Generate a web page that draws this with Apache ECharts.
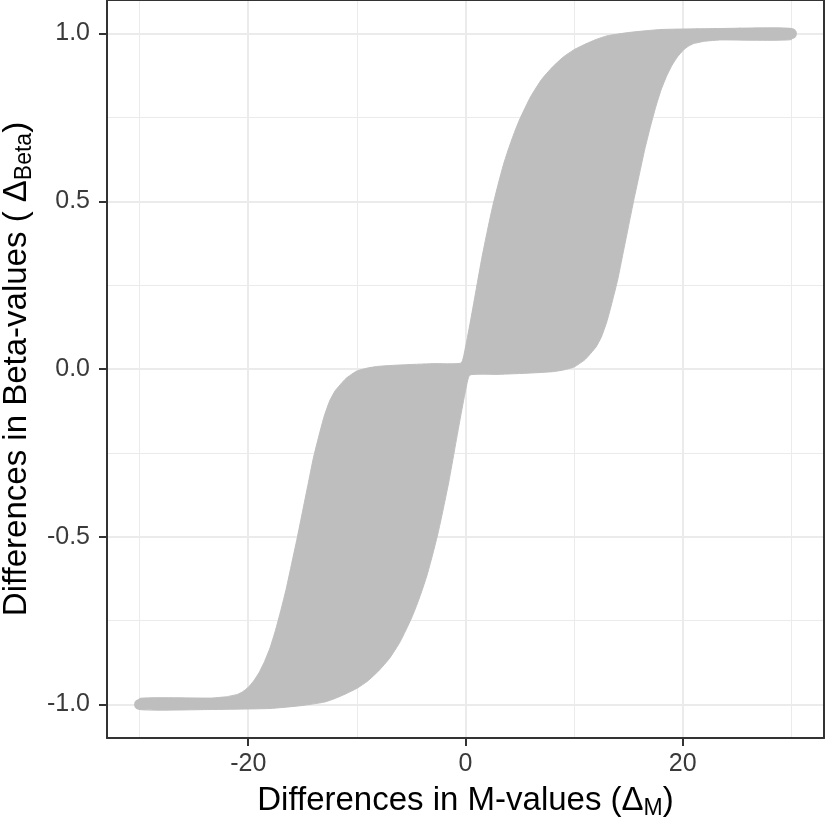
<!DOCTYPE html>
<html>
<head>
<meta charset="utf-8">
<script src="https://cdn.jsdelivr.net/npm/echarts@6/dist/echarts.min.js"></script>
<style>
html,body{margin:0;padding:0;background:#fff;}
#chart{width:825px;height:820px;}
</style>
</head>
<body>
<div id="chart"></div>
<script>
// Tick values and gridlines
const xTicks = [-20, 0, 20];
const yTicks = [-1, -0.5, 0, 0.5, 1];
const xMinor = [-30, -10, 10, 30];
const yMinor = [-0.75, -0.25, 0.25, 0.75];

// Outer upper edge of the grey band
const upperX = [-30, -23.5, -22, -21, -20.5, -20, -19.5, -19, -18.5, -18, -17.5, -17, -16.5, -16, -15.5, -15, -14.5, -14, -13.5, -13, -12.5, -12, -11, -10, -9, -8, -6, -3, -0.4, 0, 0.5, 1, 1.5, 2, 2.5, 3, 3.5, 4, 4.5, 5, 6, 7, 8, 9, 10, 11, 12, 13, 15, 18, 23.5, 30];
const upperY = [-0.982, -0.981, -0.977, -0.970, -0.962, -0.949, -0.930, -0.905, -0.872, -0.832, -0.780, -0.720, -0.655, -0.580, -0.505, -0.425, -0.345, -0.265, -0.200, -0.140, -0.095, -0.065, -0.028, -0.006, 0.003, 0.008, 0.012, 0.016, 0.018, 0.065, 0.150, 0.240, 0.330, 0.410, 0.485, 0.550, 0.610, 0.660, 0.705, 0.745, 0.812, 0.863, 0.900, 0.930, 0.952, 0.968, 0.982, 0.993, 1.003, 1.012, 1.015, 1.015];

// Outer lower edge of the grey band
const lowerX = [-30, -23.5, -18, -15, -13, -12, -11, -10, -9, -8, -7, -6, -5, -4.5, -4, -3.5, -3, -2.5, -2, -1.5, -1, -0.5, 0, 0.4, 3, 6, 8, 9, 10, 11, 12, 12.5, 13, 13.5, 14, 14.5, 15, 15.5, 16, 16.5, 17, 17.5, 18, 18.5, 19, 19.5, 20, 20.5, 21, 22, 23.5, 30];
const lowerY = [-1.015, -1.015, -1.012, -1.003, -0.993, -0.982, -0.968, -0.952, -0.930, -0.900, -0.863, -0.812, -0.745, -0.705, -0.660, -0.610, -0.550, -0.485, -0.410, -0.330, -0.240, -0.150, -0.065, -0.018, -0.016, -0.012, -0.008, -0.003, 0.006, 0.028, 0.065, 0.095, 0.140, 0.200, 0.265, 0.345, 0.425, 0.505, 0.580, 0.655, 0.720, 0.780, 0.832, 0.872, 0.905, 0.930, 0.949, 0.962, 0.970, 0.977, 0.981, 0.982];

// Extreme points (round ends)
const endX = [-30, 30];
const endY = [-1, 1];

const FONT = '"Liberation Sans", Arial, sans-serif';
const GREY = '#bebebe';

const chart = echarts.init(document.getElementById('chart'), null, {renderer: 'canvas'});

const gridLines = [];
xTicks.forEach(v => gridLines.push({xAxis: v, lineStyle: {width: 2}}));
xMinor.forEach(v => gridLines.push({xAxis: v, lineStyle: {width: 1}}));
yTicks.forEach(v => gridLines.push({yAxis: v, lineStyle: {width: 2}}));
yMinor.forEach(v => gridLines.push({yAxis: v, lineStyle: {width: 1}}));

const titleRich = {
  a: {fontFamily: FONT, fontSize: 33, lineHeight: 37, color: '#000', verticalAlign: 'top'},
  s: {fontFamily: FONT, fontSize: 23, lineHeight: 27, padding: [13, 0, 0, 0], color: '#000', verticalAlign: 'top'}
};

const hiddenAxisCommon = {
  axisLabel: {show: false}, axisTick: {show: false}, splitLine: {show: false},
  axisLine: {show: true, onZero: false, lineStyle: {color: '#333', width: 2}}, z: 10
};

chart.setOption({
  animation: false,
  backgroundColor: '#fff',
  grid: {left: 107, right: 1, top: 0, bottom: 82, containLabel: false, outerBoundsMode: 'none'},
  xAxis: [{
    type: 'value', min: -33, max: 33, position: 'bottom', z: 10,
    axisLine: {show: true, onZero: false, lineStyle: {color: '#333', width: 2}},
    axisTick: {show: true, customValues: xTicks, length: 8, lineStyle: {color: '#333', width: 2}},
    axisLabel: {customValues: xTicks, margin: 14, fontSize: 25, fontFamily: FONT, color: '#3a3a3a',
      formatter: v => String(v)},
    splitLine: {show: false},
    name: '{a|Differences in M-values (Δ}{s|M}{a|)}',
    nameLocation: 'middle', nameGap: 46,
    nameTextStyle: {rich: titleRich}
  }, Object.assign({type: 'value', min: -33, max: 33, position: 'top'}, hiddenAxisCommon)],
  yAxis: [{
    type: 'value', min: -1.1, max: 1.1, position: 'left', z: 10,
    axisLine: {show: true, onZero: false, lineStyle: {color: '#333', width: 2}},
    axisTick: {show: true, customValues: yTicks, length: 8, lineStyle: {color: '#333', width: 2}},
    axisLabel: {customValues: yTicks, margin: 17, fontSize: 25, fontFamily: FONT, color: '#3a3a3a',
      formatter: v => v.toFixed(1)},
    splitLine: {show: false},
    name: '{a|Differences in Beta-values ( Δ}{s|Beta}{a|)}',
    nameLocation: 'middle', nameGap: 70,
    nameTextStyle: {rich: titleRich}
  }, Object.assign({type: 'value', min: -1.1, max: 1.1, position: 'right'}, hiddenAxisCommon)],
  series: [
    {
      type: 'scatter', data: [], z: 1, silent: true,
      markLine: {
        silent: true, symbol: ['none', 'none'], z: 1, animation: false,
        label: {show: false},
        lineStyle: {color: '#ebebeb', type: 'solid'},
        emphasis: {disabled: true},
        data: gridLines
      }
    },
    {
      type: 'custom', z: 2, silent: true, clip: false,
      data: [[0, 0]],
      renderItem: function (params, api) {
        const pts = [];
        for (let i = 0; i < upperX.length; i++) pts.push(api.coord([upperX[i], upperY[i]]));
        for (let i = lowerX.length - 1; i >= 0; i--) pts.push(api.coord([lowerX[i], lowerY[i]]));
        return {
          type: 'polygon',
          shape: {points: pts, smooth: 0.15},
          style: {fill: GREY, stroke: GREY, lineWidth: 1}
        };
      }
    },
    {
      type: 'scatter', z: 3, silent: true,
      symbolSize: 11,
      itemStyle: {color: GREY, opacity: 1},
      data: endX.map((x, i) => [x, endY[i]])
    }
  ]
});
</script>
</body>
</html>
